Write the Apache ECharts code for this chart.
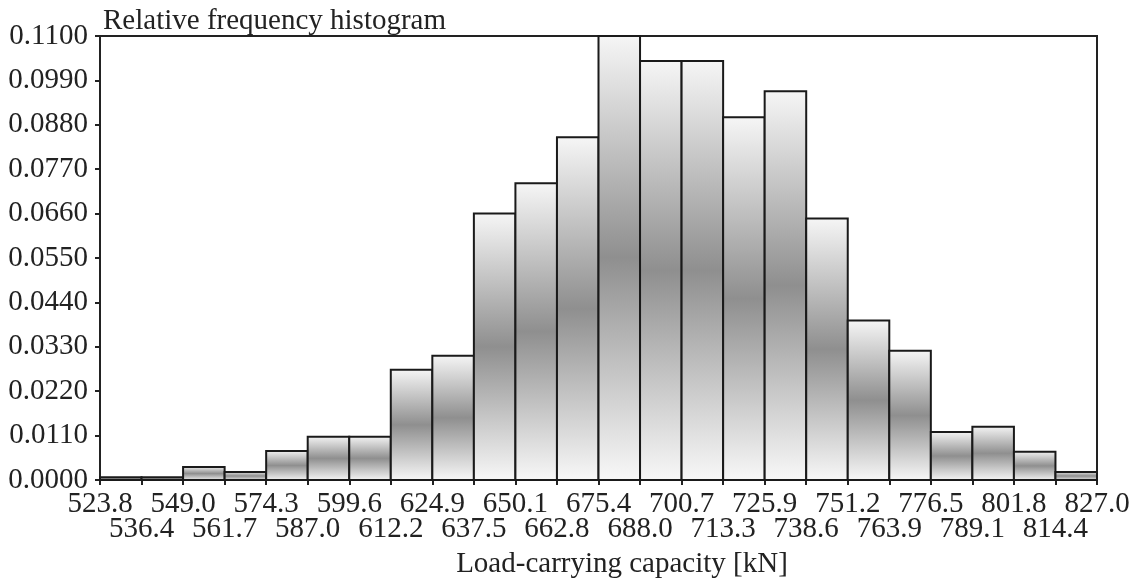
<!DOCTYPE html>
<html lang="en">
<head>
    <meta charset="UTF-8">
    <title>Relative frequency histogram</title>
    <style>
        body{margin:0;background:#fff;}
        #main{width:1142px;height:581px;}
    </style>
    <script type="text/javascript" src="https://cdn.jsdelivr.net/npm/echarts@6/dist/echarts.min.js"></script>
</head>
<body>
<div id="main"></div>
</body>
<script>
    // bin edges (tick labels on x axis)
    let edges=['523.8','536.4','549.0','561.7','574.3','587.0','599.6','612.2','624.9','637.5','650.1','662.8',
        '675.4','688.0','700.7','713.3','725.9','738.6','751.2','763.9','776.5','789.1','801.8','814.4','827.0'];
    // relative frequency of each bin
    let freq=[0.0007,0.0007,0.0032,0.0020,0.0072,0.0107,0.0107,0.0273,0.0308,0.0660,0.0735,0.0849,
        0.1100,0.1038,0.1038,0.0899,0.0963,0.0648,0.0395,0.0320,0.0119,0.0132,0.0070,0.0020];

    let font='Liberation Serif';
    let chart=echarts.init(document.getElementById('main'));

    let data=freq.map((v,i)=>[i,v]);

    // two label rows: even edges on the first, odd edges on the second
    function edgeAxis(row){
        return{
            type:'value',
            position:'bottom',
            min:0,
            max:edges.length-1,
            interval:1,
            splitLine:{show:false},
            axisLine:{show:row===0,onZero:false,lineStyle:{color:'#222',width:2}},
            axisTick:{show:row===0,length:5,lineStyle:{color:'#222',width:2}},
            axisLabel:{
                fontFamily:font,
                fontSize:29,
                color:'#222',
                margin:row===0?10:35,
                showMinLabel:true,
                showMaxLabel:true,
                hideOverlap:false,
                formatter:function(v){
                    let i=Math.round(v);
                    return i%2===row?edges[i]:'';
                }
            }
        };
    }

    let option={
        animation:false,
        title:[
            {
                text:'Relative frequency histogram',
                left:98,
                top:2,
                textStyle:{fontFamily:font,fontSize:29,fontWeight:'normal',color:'#222'}
            },
            {
                text:'Load-carrying capacity [kN]',
                left:617,
                top:545,
                textAlign:'center',
                textStyle:{fontFamily:font,fontSize:29,fontWeight:'normal',color:'#222'}
            }
        ],
        grid:{
            left:100,
            right:45,
            top:36,
            bottom:101,
            show:true,
            borderColor:'#222',
            borderWidth:2
        },
        xAxis:[edgeAxis(0),edgeAxis(1)],
        yAxis:{
            type:'value',
            min:0,
            max:0.11,
            interval:0.011,
            splitLine:{show:false},
            axisLine:{show:true,lineStyle:{color:'#222',width:2}},
            axisTick:{show:true,length:5,lineStyle:{color:'#222',width:2}},
            axisLabel:{
                fontFamily:font,
                fontSize:29,
                color:'#222',
                margin:12,
                showMinLabel:true,
                showMaxLabel:true,
                formatter:function(v){return v.toFixed(4);}
            }
        },
        series:[
            {
                type:'custom',
                data:data,
                xAxisIndex:0,
                encode:{x:0,y:1},
                renderItem:function(params,api){
                    let i=api.value(0);
                    let p0=api.coord([i,api.value(1)]);
                    let p1=api.coord([i+1,0]);
                    return{
                        type:'rect',
                        shape:{x:p0[0],y:p0[1],width:p1[0]-p0[0],height:p1[1]-p0[1]},
                        style:{
                            fill:new echarts.graphic.LinearGradient(0,0,0,1,[
                                {offset:0,color:'#f6f6f6'},
                                {offset:0.5,color:'#8f8f8f'},
                                {offset:1,color:'#f8f8f8'}
                            ]),
                            stroke:'#1a1a1a',
                            lineWidth:2
                        }
                    };
                }
            }
        ]
    };
    chart.setOption(option);
</script>
</html>
